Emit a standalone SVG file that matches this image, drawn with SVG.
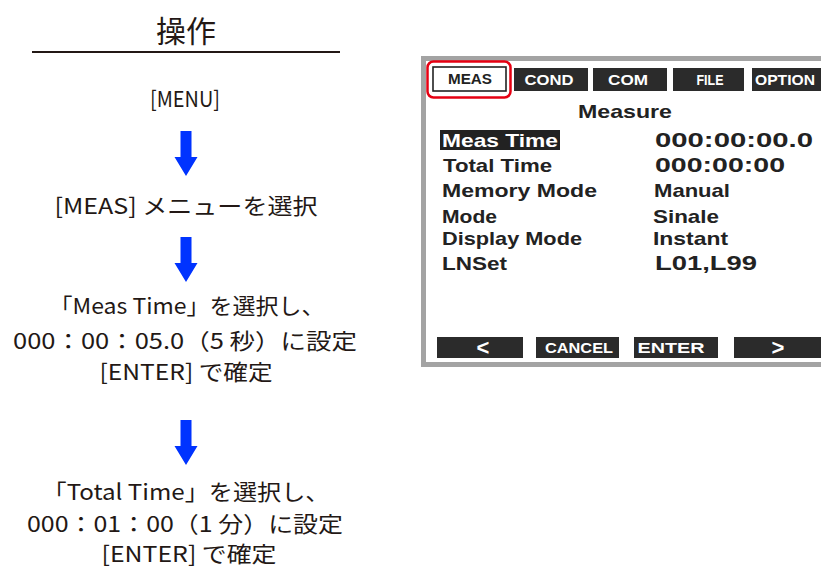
<svg xmlns="http://www.w3.org/2000/svg" width="821" height="568" viewBox="0 0 821 568">
<style>
.jp{font-family:"Noto Sans CJK JP","Noto Sans",sans-serif;font-size:22px;fill:#231815;text-anchor:middle}
.ttl{font-family:"Noto Sans CJK JP",sans-serif;font-size:30px;fill:#231815;text-anchor:middle}
.scr{font-family:"Liberation Sans",Arial,sans-serif;font-weight:bold;fill:#222}
.lbl{font-size:19px}
.tab{font-size:14px;fill:#fff;text-anchor:middle}
.btn{fill:#2b2b2b}
.arrow{fill:#0033ff}
</style>
<defs>
<path id="arr" d="M-5.5,0 H5.5 V26 H11.5 L0,45 L-11.5,26 H-5.5 Z"/>
</defs>
<g id="title">
<text class="ttl" x="186" y="42">操作</text>
<line x1="32" y1="52" x2="340" y2="52" stroke="#231815" stroke-width="2"/>
</g>
<g id="step1"><text class="jp" x="185" y="107" textLength="70" lengthAdjust="spacingAndGlyphs">[MENU]</text></g>
<g id="step2"><text class="jp" x="186" y="214" textLength="263" lengthAdjust="spacingAndGlyphs">[MEAS] メニューを選択</text></g>
<g id="step3">
<text class="jp" x="187" y="314" textLength="275" lengthAdjust="spacingAndGlyphs">「Meas Time」を選択し、</text>
<text class="jp" x="185" y="349" textLength="344" lengthAdjust="spacingAndGlyphs">000：00：05.0（5 秒）に設定</text>
<text class="jp" x="186" y="380" textLength="173" lengthAdjust="spacingAndGlyphs">[ENTER] で確定</text>
</g>
<g id="step4">
<text class="jp" x="186" y="500" textLength="287" lengthAdjust="spacingAndGlyphs">「Total Time」を選択し、</text>
<text class="jp" x="185" y="532" textLength="316" lengthAdjust="spacingAndGlyphs">000：01：00（1 分）に設定</text>
<text class="jp" x="189" y="562" textLength="175" lengthAdjust="spacingAndGlyphs">[ENTER] で確定</text>
</g>
<g id="connectors">
<use href="#arr" class="arrow" x="186" y="131"/>
<use href="#arr" class="arrow" x="186" y="237"/>
<use href="#arr" class="arrow" x="186" y="420"/>
</g>
<g id="screen">
<rect x="423.5" y="58.5" width="410" height="306" fill="#fff" stroke="#a3a3a3" stroke-width="5"/>
<rect x="433" y="67" width="73" height="24" fill="#fff" stroke="#222" stroke-width="1.6"/>
<text class="scr tab" x="470" y="84" style="fill:#222" textLength="44" lengthAdjust="spacingAndGlyphs">MEAS</text>
<rect x="427.5" y="61.5" width="83" height="36" rx="6" fill="none" stroke="#e60012" stroke-width="2.5"/>
<rect class="btn" x="514" y="68" width="74" height="23"/>
<text class="scr tab" x="549" y="85" textLength="49" lengthAdjust="spacingAndGlyphs">COND</text>
<rect class="btn" x="593" y="68" width="74" height="23"/>
<text class="scr tab" x="628" y="85" textLength="40" lengthAdjust="spacingAndGlyphs">COM</text>
<rect class="btn" x="673" y="68" width="71" height="23"/>
<text class="scr tab" x="710" y="85" textLength="27" lengthAdjust="spacingAndGlyphs">FILE</text>
<rect class="btn" x="752" y="68" width="75" height="23"/>
<text class="scr tab" x="785" y="85" textLength="60" lengthAdjust="spacingAndGlyphs">OPTION</text>
<text class="scr lbl" x="578" y="118" textLength="94" lengthAdjust="spacingAndGlyphs">Measure</text>
<rect x="440" y="130" width="120" height="20" fill="#222"/>
<text class="scr lbl" x="442" y="147" style="fill:#fff" textLength="116" lengthAdjust="spacingAndGlyphs">Meas Time</text>
<text class="scr lbl" x="443" y="172" textLength="109" lengthAdjust="spacingAndGlyphs">Total Time</text>
<text class="scr lbl" x="442" y="197" textLength="155" lengthAdjust="spacingAndGlyphs">Memory Mode</text>
<text class="scr lbl" x="442" y="223" textLength="55" lengthAdjust="spacingAndGlyphs">Mode</text>
<text class="scr lbl" x="442" y="245" textLength="140" lengthAdjust="spacingAndGlyphs">Display Mode</text>
<text class="scr lbl" x="442" y="270" textLength="65" lengthAdjust="spacingAndGlyphs">LNSet</text>
<text class="scr lbl" x="655" y="147" style="font-size:20px" textLength="158" lengthAdjust="spacingAndGlyphs">000:00:00.0</text>
<text class="scr lbl" x="655" y="172" style="font-size:20px" textLength="130" lengthAdjust="spacingAndGlyphs">000:00:00</text>
<text class="scr lbl" x="654" y="197" textLength="76" lengthAdjust="spacingAndGlyphs">Manual</text>
<text class="scr lbl" x="653" y="223" textLength="66" lengthAdjust="spacingAndGlyphs">Sinale</text>
<text class="scr lbl" x="653" y="245" textLength="75" lengthAdjust="spacingAndGlyphs">Instant</text>
<text class="scr lbl" x="655" y="270" style="font-size:20px" textLength="102" lengthAdjust="spacingAndGlyphs">L01,L99</text>
<rect class="btn" x="437" y="337" width="86" height="21"/>
<text class="scr tab" x="483" y="355" style="font-size:22px">&lt;</text>
<rect class="btn" x="536" y="337" width="83" height="21"/>
<text class="scr tab" x="579" y="353" textLength="68" lengthAdjust="spacingAndGlyphs">CANCEL</text>
<rect class="btn" x="634" y="337" width="84" height="21"/>
<text class="scr tab" x="671" y="353" textLength="67" lengthAdjust="spacingAndGlyphs">ENTER</text>
<rect class="btn" x="734" y="337" width="95" height="21"/>
<text class="scr tab" x="778" y="355" style="font-size:22px">&gt;</text>
</g>
</svg>
